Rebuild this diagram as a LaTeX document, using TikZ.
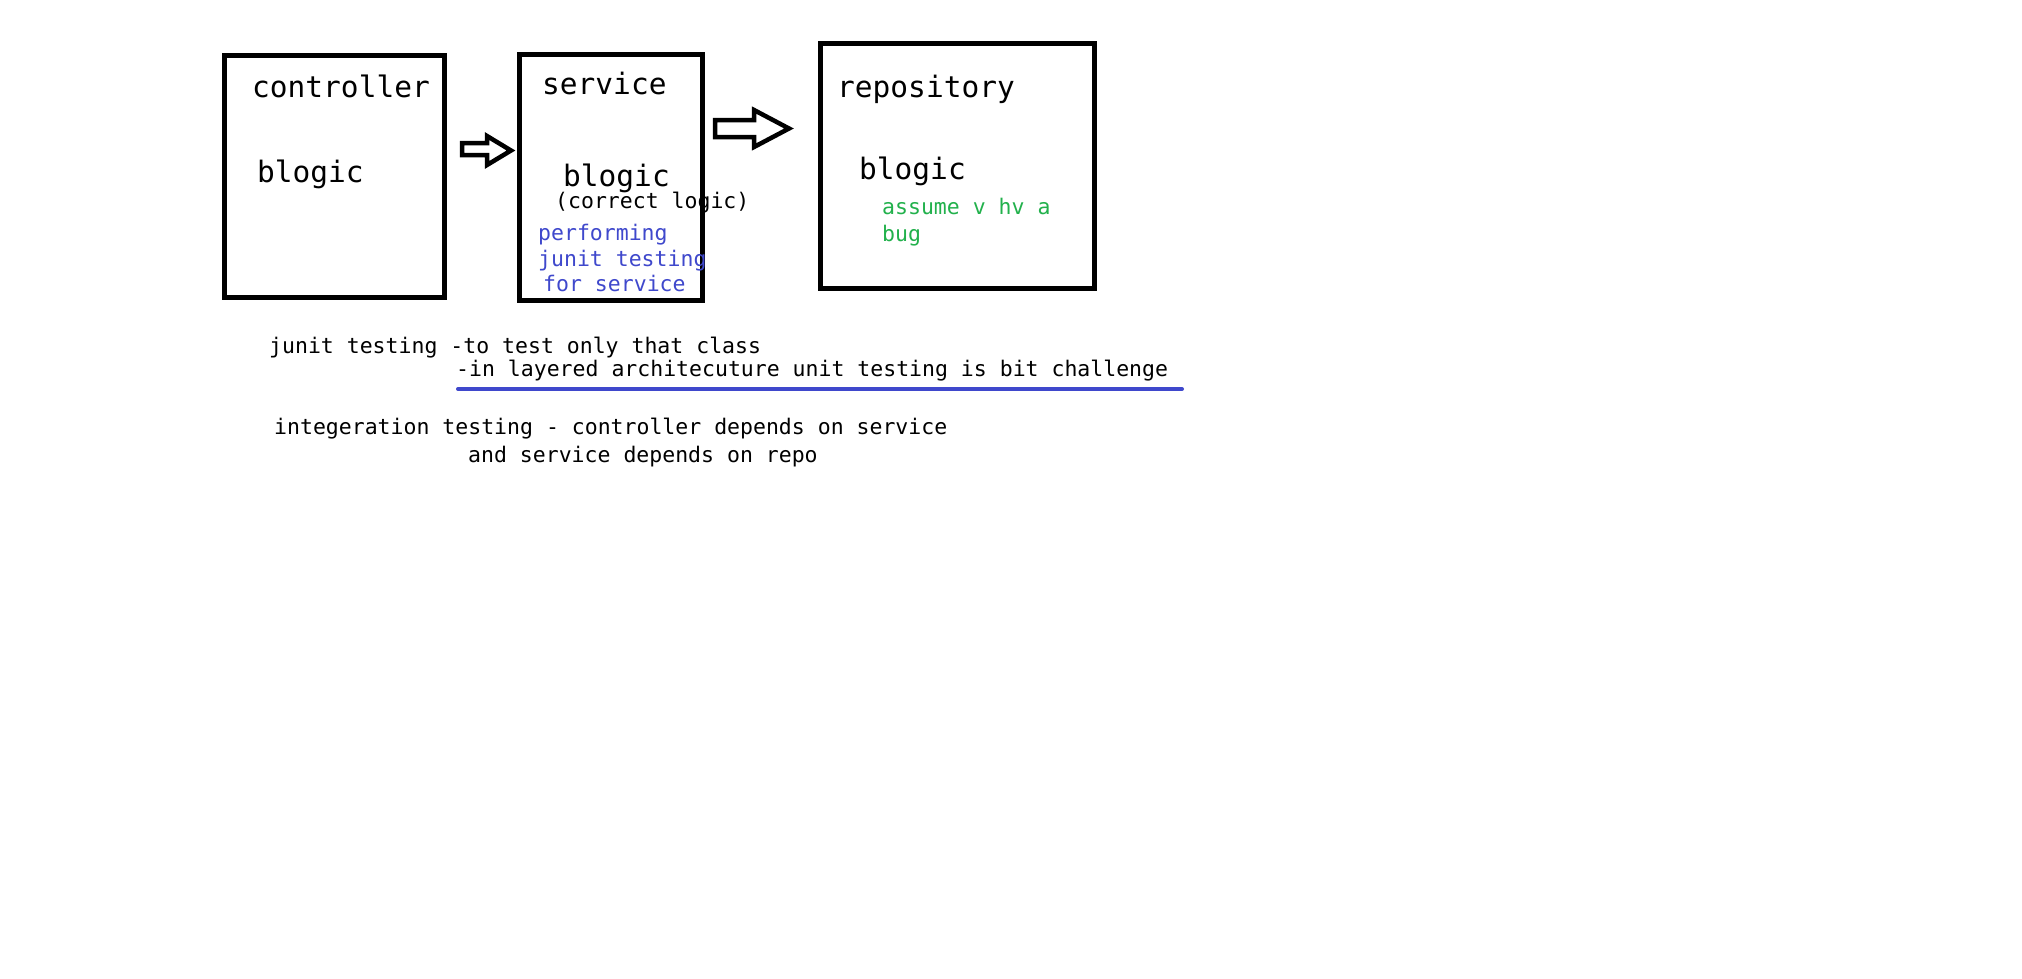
\documentclass[tikz,border=0pt]{standalone}
\usepackage{fontspec}
\setmonofont{DejaVu Sans Mono}
\definecolor{indigo}{RGB}{63,72,204}
\definecolor{paintgreen}{RGB}{34,177,76}
\tikzset{
  layer/.style={draw, line width=5pt, minimum width=#1, inner sep=0pt},
  big/.style={anchor=base west, inner sep=0pt, font=\ttfamily\fontsize{29.5}{32}\selectfont},
  small/.style={anchor=base west, inner sep=0pt, font=\ttfamily\fontsize{21.5}{23}\selectfont},
  blockarrow/.style={draw, line width=4.5pt, line join=miter, fill=white}
}
\begin{document}
\begin{tikzpicture}[x=1pt, y=-1pt]
\useasboundingbox[fill=white] (0,0) rectangle (2022,978);
\node[layer=220pt, minimum height=242pt] (controller) at (334,176) {};
\node[layer=183pt, minimum height=246pt] (service) at (610.5,177) {};
\node[layer=274pt, minimum height=245pt] (repository) at (957,165.5) {};
\draw[blockarrow] (462,143) -- (487,143) -- (487,136) -- (511,150.5) -- (487,165) -- (487,155) -- (462,155) -- cycle;
\draw[blockarrow] (715,120) -- (754,120) -- (754,110) -- (789,128.5) -- (754,147) -- (754,137) -- (715,137) -- cycle;
\node[big] (ctitle) at (252,97) {controller};
\node[big] (clogic) at (257,182) {blogic};
\node[big] (stitle) at (542,94) {service};
\node[big] (slogic) at (563,186) {blogic};
\node[small] (scorrect) at (555,208) {(correct logic)};
\node[small, indigo] (sperf) at (538,240) {performing};
\node[small, indigo] (sjunit) at (538,266) {junit testing};
\node[small, indigo] (sfor) at (543,291) {for service};
\node[big] (rtitle) at (837,97) {repository};
\node[big] (rlogic) at (859,179) {blogic};
\node[small, paintgreen] (rassume) at (882,214) {assume v hv a};
\node[small, paintgreen] (rbug) at (882,241) {bug};
\node[small] (junit) at (269,353) {junit testing -to test only that class};
\node[small] (layered) at (456,376) {-in layered architecuture unit testing is bit challenge};
\draw[indigo, line width=4pt, line cap=round] (458,389) -- (1182,389);
\node[small] (integ) at (274,434) {integeration testing - controller depends on service};
\node[small] (repo) at (468,462) {and service depends on repo};
\end{tikzpicture}
\end{document}
